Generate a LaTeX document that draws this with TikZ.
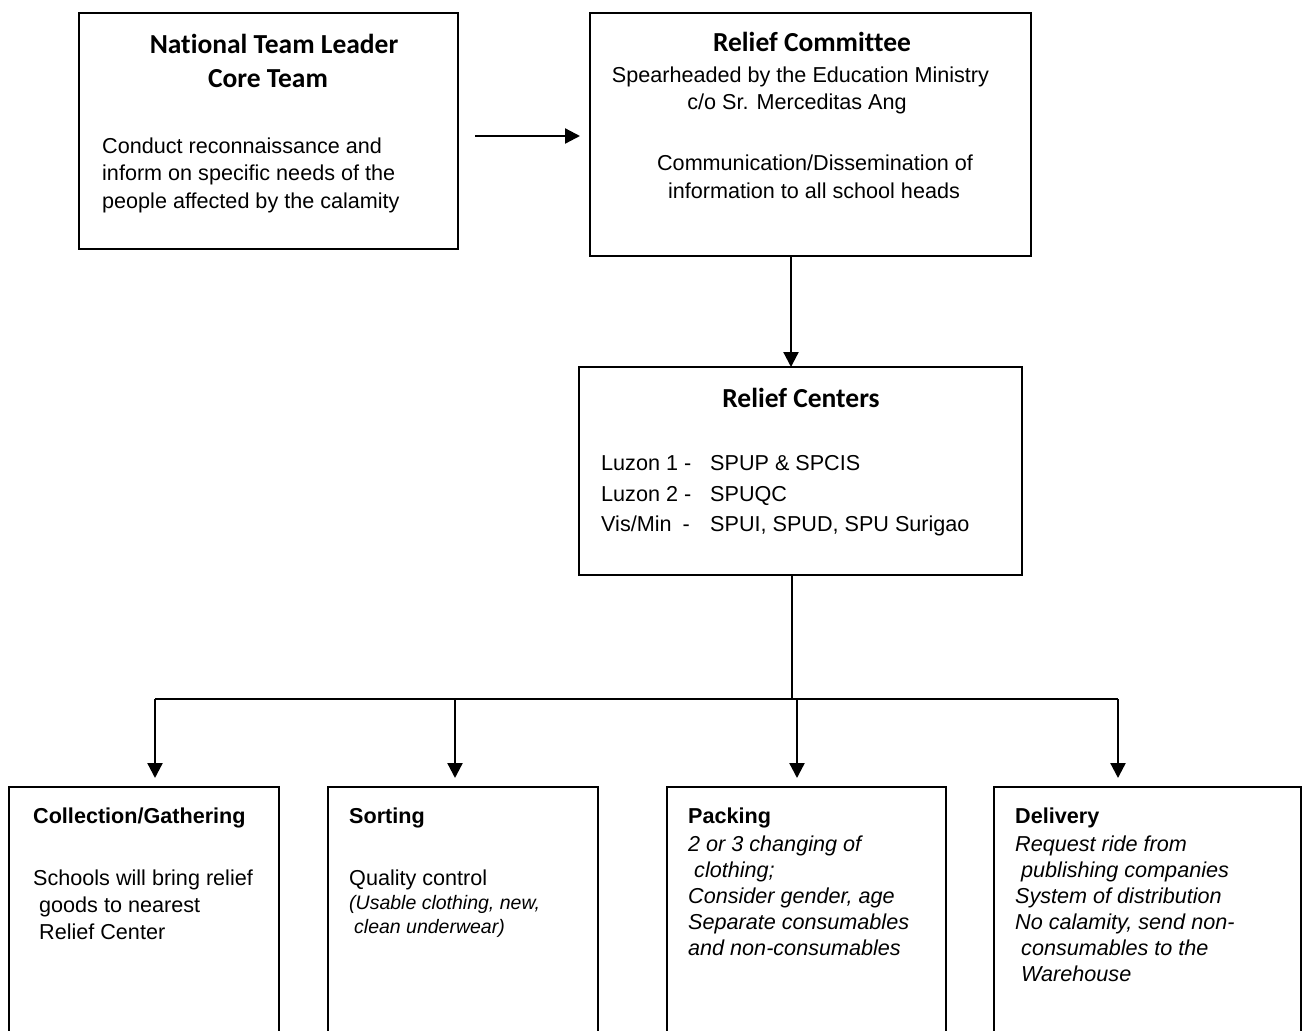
\documentclass[tikz,border=0pt]{standalone}
\usepackage{fontspec}
\setmainfont{Liberation Sans}[Ligatures=NoCommon]
\newfontfamily\calib{Carlito}[Ligatures=NoCommon]
\usetikzlibrary{arrows.meta}
\begin{document}
\begin{tikzpicture}[x=1pt,y=-1pt,
  bigbox/.style={draw=black, line width=2pt, anchor=north west, inner sep=0pt, outer sep=0pt},
  smallbox/.style={draw=black, line width=1.5pt, anchor=north west, inner sep=0pt, outer sep=0pt},
  arr/.style={line width=2.3pt, -{Triangle[length=15pt,width=15pt]}},
  ln/.style={line width=2.2pt},
  hd/.style={font=\calib\bfseries\fontsize{27.5}{33}\selectfont, inner sep=0pt, anchor=base},
  tx/.style={font=\fontsize{21.6}{26}\selectfont, inner sep=0pt, anchor=base west},
  txc/.style={font=\fontsize{21.6}{26}\selectfont, inner sep=0pt, anchor=base},
  bh/.style={font=\bfseries\fontsize{21.6}{26}\selectfont, inner sep=0pt, anchor=base west},
  ti/.style={font=\itshape\fontsize{21.6}{26}\selectfont, inner sep=0pt, anchor=base west},
  ts/.style={font=\itshape\fontsize{19.5}{24}\selectfont, inner sep=0pt, anchor=base west}]
\useasboundingbox (0,0) rectangle (1305,1030);
\fill[white] (0,0) rectangle (1305,1030);
\clip (0,0) rectangle (1305,1030);

% top boxes
\node[bigbox, minimum width=379pt, minimum height=236pt] (ntl) at (79,13) {};
\node[bigbox, minimum width=441pt, minimum height=243pt] (rcom) at (590,13) {};
\node[bigbox, minimum width=443pt, minimum height=208pt] (rcen) at (579,367) {};

% bottom boxes (open at the bottom of the picture)
\node[smallbox, minimum width=270pt, minimum height=260pt] (col) at (9,787) {};
\node[smallbox, minimum width=270pt, minimum height=260pt] (sor) at (328,787) {};
\node[smallbox, minimum width=279pt, minimum height=260pt] (pac) at (667,787) {};
\node[smallbox, minimum width=307pt, minimum height=260pt] (del) at (994,787) {};

% box 1 text
\node[hd] (t1a) at (274,54) {National Team Leader};
\node[hd] (t1b) at (268,88) {Core Team};
\node[tx] (t1c) at (102,153) {Conduct reconnaissance and};
\node[tx] (t1d) at (102,180.5) {inform on specific needs of the};
\node[tx] (t1e) at (102,208) {people affected by the calamity};

% box 2 text
\node[hd] (t2a) at (812,52) {Relief Committee};
\node[txc] (t2b) at (800.5,83) {Spearheaded by the Education Ministry};
\node[txc] (t2c) at (797,110) {c/o Sr. Merceditas Ang};
\node[txc] (t2d) at (815,170) {Communication/Dissemination of};
\node[txc] (t2e) at (814,198) {information to all school heads};

% box 3 text
\node[hd] (t3a) at (801,407) {Relief Centers};
\node[tx] (t3b) at (601,470) {Luzon 1 -};
\node[tx] (t3c) at (710,470) {SPUP \& SPCIS};
\node[tx] (t3d) at (601,501) {Luzon 2 -};
\node[tx] (t3e) at (710,501) {SPUQC};
\node[tx] (t3f) at (601,531) {Vis/Min};
\node[txc, anchor=base east] (t3g) at (690,531) {-};
\node[tx] (t3h) at (710,531) {SPUI, SPUD, SPU Surigao};

% collection
\node[bh] (c1) at (33,823) {Collection/Gathering};
\node[tx] (c2) at (33,885) {Schools will bring relief};
\node[tx] (c3) at (39,912) {goods to nearest};
\node[tx] (c4) at (39,939) {Relief Center};

% sorting
\node[bh] (s1) at (349,823) {Sorting};
\node[tx] (s2) at (349,885) {Quality control};
\node[ts] (s3) at (349,909) {(Usable clothing, new,};
\node[ts] (s4) at (354,933) {clean underwear)};

% packing
\node[bh] (p1) at (688,823) {Packing};
\node[ti] (p2) at (688,851) {2 or 3 changing of};
\node[ti] (p3) at (694,877) {clothing;};
\node[ti] (p4) at (688,903) {Consider gender, age};
\node[ti] (p5) at (688,929) {Separate consumables};
\node[ti] (p6) at (688,955) {and non-consumables};

% delivery
\node[bh] (d1) at (1015,823) {Delivery};
\node[ti] (d2) at (1015,851) {Request ride from};
\node[ti] (d3) at (1021,877) {publishing companies};
\node[ti] (d4) at (1015,903) {System of distribution};
\node[ti] (d5) at (1015,929) {No calamity, send non-};
\node[ti] (d6) at (1021,955) {consumables to the};
\node[ti] (d7) at (1021,981) {Warehouse};

% connectors
\coordinate (h1) at (0,136);
\draw[arr, shorten <=17pt, shorten >=10pt] (ntl.east |- h1) -- (rcom.west |- h1);
\coordinate (v1) at (791,0);
\draw[arr] (v1 |- rcom.south) -- (v1 |- rcen.north);
\coordinate (stem) at (792,0);
\coordinate (bar) at (0,699);
\coordinate (x1) at (155,0);
\coordinate (x2) at (455,0);
\coordinate (x3) at (797,0);
\coordinate (x4) at (1118,0);
\draw[ln] (stem |- rcen.south) -- (stem |- bar);
\draw[ln] (x1 |- bar) -- (x4 |- bar);
\draw[arr, shorten >=9pt] (x1 |- bar) -- (x1 |- col.north);
\draw[arr, shorten >=9pt] (x2 |- bar) -- (x2 |- sor.north);
\draw[arr, shorten >=9pt] (x3 |- bar) -- (x3 |- pac.north);
\draw[arr, shorten >=9pt] (x4 |- bar) -- (x4 |- del.north);
\end{tikzpicture}
\end{document}
